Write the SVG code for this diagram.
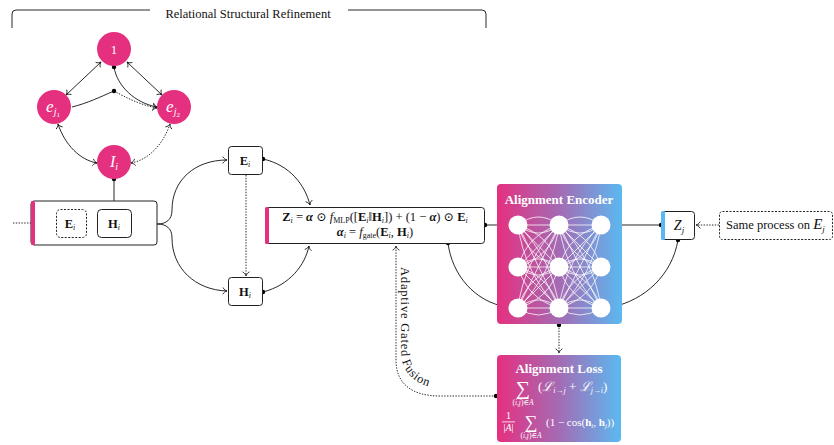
<svg xmlns="http://www.w3.org/2000/svg" width="834" height="445" viewBox="0 0 834 445">
<style>
.ln{fill:none;stroke:#111;stroke-width:0.9}
.dt{stroke-dasharray:1.4 1.4}
.box{fill:#fff;stroke:#222;stroke-width:1}
.dbox{fill:#fff;stroke:#222;stroke-width:1;stroke-dasharray:2 1.5}
.sf{font-family:"Liberation Serif","DejaVu Serif",serif;fill:#111}
.w{fill:#fff}
.pk{fill:#E5307F}
.dot{fill:#000}
.net{fill:none;stroke:#fff;stroke-width:0.85;stroke-opacity:0.9}
</style>
<defs>
<marker id="ar" markerUnits="userSpaceOnUse" markerWidth="12" markerHeight="12" viewBox="-6 -6 12 12" refX="0" refY="0" orient="auto-start-reverse">
<path d="M-4.2,-3.4 C-3,-1.3 -1.4,-0.35 0,0 C-1.4,0.35 -3,1.3 -4.2,3.4" fill="none" stroke="#111" stroke-width="0.85"/>
</marker>
<linearGradient id="gr" x1="0" y1="0" x2="1" y2="0">
<stop offset="0" stop-color="#E5307F"/>
<stop offset="0.5" stop-color="#A46BB4"/>
<stop offset="1" stop-color="#5BB9F1"/>
</linearGradient>
</defs>
<rect width="834" height="445" fill="#fff"/>

<g id="title">
<path class="ln" d="M12,28 L12,14 Q12,10 16,10 L150,10 M348,10 L482,10 Q486,10 486,14 L486,28" stroke-width="1"/>
<text class="sf" x="248" y="18" font-size="12.5" text-anchor="middle">Relational Structural Refinement</text>
</g>

<g id="connectors">
<path class="ln" d="M101,62 L66,95" marker-start="url(#ar)" marker-end="url(#ar)"/>
<path class="ln" d="M127,62 L162,95" marker-start="url(#ar)" marker-end="url(#ar)"/>
<path class="ln" d="M114,67 C117,86 135,103 157,107" marker-end="url(#ar)"/>
<path class="ln" d="M72,107 C88,103 100,97 114,91"/>
<path class="ln dt" d="M114,91 C125,97 140,105 157,108" marker-end="url(#ar)"/>
<path class="ln" d="M58,124 C65,145 80,160 97,163" marker-start="url(#ar)" marker-end="url(#ar)"/>
<path class="ln dt" d="M170,124 C163,145 148,160 131,163" marker-start="url(#ar)" marker-end="url(#ar)"/>
<path class="ln" d="M114,179 L114,209" marker-end="url(#ar)"/>
<circle class="dot" cx="114" cy="67" r="2.2"/>
<circle class="dot" cx="114" cy="91" r="2.2"/>
<circle class="dot" cx="114" cy="179" r="2.2"/>
<path class="ln dt" d="M13,223 L56,223" marker-end="url(#ar)"/>
<path class="ln" d="M157,224 C166,224 172,220 172,210 C172,180 195,160 227,160" marker-end="url(#ar)"/>
<path class="ln" d="M157,224 C166,224 172,228 172,238 C172,268 195,290 227,291" marker-end="url(#ar)"/>
<path class="ln dt" d="M246,175 L246,276" marker-end="url(#ar)"/>
<path class="ln" d="M263,159 C290,165 305,185 310,205" marker-end="url(#ar)"/>
<path class="ln" d="M263,292 C290,285 305,265 309,246" marker-end="url(#ar)"/>
<circle class="dot" cx="263" cy="159" r="2.2"/>
<circle class="dot" cx="263" cy="292" r="2.2"/>
<path class="ln" d="M485,225 L507,225" marker-end="url(#ar)"/>
<path class="ln" d="M448,243 C452,275 475,302 507,307" marker-end="url(#ar)"/>
<circle class="dot" cx="485" cy="225" r="2.2"/>
<circle class="dot" cx="448" cy="243" r="2.2"/>
<path class="ln" d="M661,225 L612,225" marker-end="url(#ar)"/>
<path class="ln" d="M678,240 C672,275 645,300 612,307" marker-end="url(#ar)"/>
<circle class="dot" cx="661" cy="225" r="2.2"/>
<circle class="dot" cx="678" cy="240" r="2.2"/>
<path class="ln dt" d="M719,225 L696,225" marker-end="url(#ar)"/>
<path class="ln dt" d="M559,325 L559,353" marker-end="url(#ar)"/>
<circle class="dot" cx="559" cy="325" r="2.2"/>
<path class="ln dt" d="M496,396 L440,396 C412,396 396,384 396,360 L396,246" marker-end="url(#ar)"/>
<circle class="dot" cx="496" cy="396" r="2.2"/>
<path id="agf" d="M401,267 L401,350 C401,374 417,388 446,389" fill="none" stroke="none"/>
<text class="sf" font-size="12.5" letter-spacing="0.8"><textPath href="#agf">Adaptive Gated Fusion</textPath></text>
</g>

<g id="node-1">
<circle class="pk" cx="114" cy="49" r="17"/>
<text class="sf w" x="114" y="54" font-size="13" text-anchor="middle">1</text>
</g>
<g id="node-ej1">
<circle class="pk" cx="54" cy="107" r="17"/>
<text class="sf w" x="53" y="112" font-size="17" text-anchor="middle"><tspan font-style="italic">e</tspan><tspan font-style="italic" font-size="10" dy="3">j</tspan><tspan font-size="7" dy="2">1</tspan></text>
</g>
<g id="node-ej2">
<circle class="pk" cx="174" cy="107" r="17"/>
<text class="sf w" x="173" y="112" font-size="17" text-anchor="middle"><tspan font-style="italic">e</tspan><tspan font-style="italic" font-size="10" dy="3">j</tspan><tspan font-size="7" dy="2">2</tspan></text>
</g>
<g id="node-Ii">
<circle class="pk" cx="114" cy="162" r="17"/>
<text class="sf w" x="114" y="167" font-size="16" text-anchor="middle"><tspan font-style="italic">I</tspan><tspan font-style="italic" font-size="10" dy="3">i</tspan></text>
</g>

<g id="node-input">
<rect class="box" x="31" y="201" width="126" height="44" rx="3"/>
<rect class="pk" x="31" y="201" width="4" height="44" rx="1.5"/>
<rect class="dbox" x="56.5" y="209.5" width="30" height="28" rx="4"/>
<text class="sf" x="70" y="228" font-size="12.5" text-anchor="middle"><tspan font-weight="bold">E</tspan><tspan font-style="italic" font-size="8" dy="2">i</tspan></text>
<rect class="box" x="97.5" y="209.5" width="34" height="28" rx="4"/>
<text class="sf" x="114" y="228" font-size="12.5" text-anchor="middle"><tspan font-weight="bold">H</tspan><tspan font-style="italic" font-size="8" dy="2">i</tspan></text>
</g>

<g id="node-Ei">
<rect class="box" x="228.5" y="146.5" width="34" height="28" rx="3"/>
<text class="sf" x="245" y="165" font-size="12.5" text-anchor="middle"><tspan font-weight="bold">E</tspan><tspan font-style="italic" font-size="8" dy="2">i</tspan></text>
</g>
<g id="node-Hi">
<rect class="box" x="228.5" y="277.5" width="34" height="28" rx="3"/>
<text class="sf" x="245" y="296" font-size="12.5" text-anchor="middle"><tspan font-weight="bold">H</tspan><tspan font-style="italic" font-size="8" dy="2">i</tspan></text>
</g>

<g id="node-fusion">
<rect class="box" x="265.5" y="207.5" width="219" height="36" rx="3"/>
<rect class="pk" x="265" y="207" width="4" height="37" rx="1.5"/>
<text class="sf" x="375" y="221" font-size="12.5" text-anchor="middle"><tspan font-weight="bold">Z</tspan><tspan font-style="italic" font-size="8" dy="2">i</tspan><tspan dy="-2"> = </tspan><tspan font-weight="bold" font-style="italic">α</tspan><tspan> ⊙ </tspan><tspan font-style="italic">f</tspan><tspan font-size="8" dy="2">MLP</tspan><tspan dy="-2">([</tspan><tspan font-weight="bold">E</tspan><tspan font-style="italic" font-size="8" dy="2">i</tspan><tspan dy="-2">‖</tspan><tspan font-weight="bold">H</tspan><tspan font-style="italic" font-size="8" dy="2">i</tspan><tspan dy="-2">]) + (1 − </tspan><tspan font-weight="bold" font-style="italic">α</tspan><tspan>) ⊙ </tspan><tspan font-weight="bold">E</tspan><tspan font-style="italic" font-size="8" dy="2">i</tspan></text>
<text class="sf" x="375" y="236" font-size="12.5" text-anchor="middle"><tspan font-weight="bold" font-style="italic">α</tspan><tspan font-style="italic" font-size="8" dy="2">i</tspan><tspan dy="-2"> = </tspan><tspan font-style="italic">f</tspan><tspan font-size="8" dy="2">gate</tspan><tspan dy="-2">(</tspan><tspan font-weight="bold">E</tspan><tspan font-style="italic" font-size="8" dy="2">i</tspan><tspan dy="-2">, </tspan><tspan font-weight="bold">H</tspan><tspan font-style="italic" font-size="8" dy="2">i</tspan><tspan dy="-2">)</tspan></text>
</g>

<g id="node-encoder">
<rect x="497" y="184" width="125" height="140" rx="4" fill="url(#gr)"/>
<text class="sf w" x="559" y="204" font-size="13" font-weight="bold" text-anchor="middle">Alignment Encoder</text>
<path class="net" d="M518 225L559 225M518 225L559 267M518 225L559 308M518 267L559 225M518 267L559 267M518 267L559 308M518 308L559 225M518 308L559 267M518 308L559 308
M518 225Q538.5 209 559 225M518 225Q538.5 241 559 225
M518 225Q527.1 257.2 559 267M518 225Q549.9 234.8 559 267
M518 225Q524.2 273.6 559 308M518 225Q552.8 259.4 559 308
M518 267Q549.9 257.2 559 225M518 267Q527.1 234.8 559 225
M518 267Q538.5 251 559 267M518 267Q538.5 283 559 267
M518 267Q527.1 298.7 559 308M518 267Q549.9 276.3 559 308
M518 308Q552.8 273.6 559 225M518 308Q524.2 259.4 559 225
M518 308Q549.9 298.7 559 267M518 308Q527.1 276.3 559 267
M518 308Q538.5 292 559 308M518 308Q538.5 322 559 308
M559 225L601 225M559 225L601 267M559 225L601 308M559 267L601 225M559 267L601 267M559 267L601 308M559 308L601 225M559 308L601 267M559 308L601 308
M559 225Q580 209 601 225M559 225Q580 241 601 225
M559 225Q568.6 257.2 601 267M559 225Q591.4 234.8 601 267
M559 225Q565.7 273.6 601 308M559 225Q594.3 259.4 601 308
M559 267Q591.4 257.2 601 225M559 267Q568.6 234.8 601 225
M559 267Q580 251 601 267M559 267Q580 283 601 267
M559 267Q568.6 298.7 601 308M559 267Q591.4 276.3 601 308
M559 308Q594.3 273.6 601 225M559 308Q565.7 259.4 601 225
M559 308Q591.4 298.7 601 267M559 308Q568.6 276.3 601 267
M559 308Q580 292 601 308M559 308Q580 322 601 308"/>
<g class="w">
<circle cx="518" cy="225" r="9.5"/><circle cx="559" cy="225" r="9.5"/><circle cx="601" cy="225" r="9.5"/>
<circle cx="518" cy="267" r="9.5"/><circle cx="559" cy="267" r="9.5"/><circle cx="601" cy="267" r="9.5"/>
<circle cx="518" cy="308" r="9.5"/><circle cx="559" cy="308" r="9.5"/><circle cx="601" cy="308" r="9.5"/>
</g>
</g>

<g id="node-loss">
<rect x="497" y="355" width="124" height="87" rx="4" fill="url(#gr)"/>
<text class="sf w" x="559" y="373" font-size="13" font-weight="bold" text-anchor="middle">Alignment Loss</text>
<text class="sf w" x="523" y="395" font-size="20" text-anchor="middle">∑</text>
<text class="sf w" x="523" y="405" font-size="7.5" text-anchor="middle">(<tspan font-style="italic">i</tspan>,<tspan font-style="italic">j</tspan>)∈<tspan font-style="italic">A</tspan></text>
<text class="sf w" x="538" y="391" font-size="13">(<tspan font-style="italic">ℒ</tspan><tspan font-size="8" font-style="italic" dy="2">i→j</tspan><tspan dy="-2"> + </tspan><tspan font-style="italic">ℒ</tspan><tspan font-size="8" font-style="italic" dy="2">j→i</tspan><tspan dy="-2">)</tspan></text>
<text class="sf w" x="508.5" y="419" font-size="10" text-anchor="middle">1</text>
<rect class="w" x="502" y="421.5" width="13" height="0.8"/>
<text class="sf w" x="508.5" y="431" font-size="10" text-anchor="middle">|<tspan font-style="italic">A</tspan>|</text>
<text class="sf w" x="531" y="428" font-size="18" text-anchor="middle">∑</text>
<text class="sf w" x="531" y="438" font-size="7.5" text-anchor="middle">(<tspan font-style="italic">i</tspan>,<tspan font-style="italic">j</tspan>)∈<tspan font-style="italic">A</tspan></text>
<text class="sf w" x="546" y="426" font-size="11">(1 − cos(<tspan font-weight="bold">h</tspan><tspan font-size="7" font-style="italic" dy="2">i</tspan><tspan dy="-2">, </tspan><tspan font-weight="bold">h</tspan><tspan font-size="7" font-style="italic" dy="2">j</tspan><tspan dy="-2">))</tspan></text>
</g>

<g id="node-Zj">
<rect class="box" x="661.5" y="211.5" width="33" height="28" rx="3"/>
<rect x="661" y="211" width="4" height="29" rx="1.5" fill="#5BB9F1"/>
<text class="sf" x="679" y="230" font-size="14" text-anchor="middle"><tspan font-style="italic">Z</tspan><tspan font-style="italic" font-size="9" dy="3">j</tspan></text>
</g>

<g id="node-same">
<rect class="dbox" x="719.5" y="211.5" width="113" height="28" rx="3"/>
<text class="sf" x="726" y="229" font-size="12.5">Same process on <tspan font-style="italic" font-size="15">E</tspan><tspan font-style="italic" font-size="9" dy="3">j</tspan></text>
</g>
</svg>
